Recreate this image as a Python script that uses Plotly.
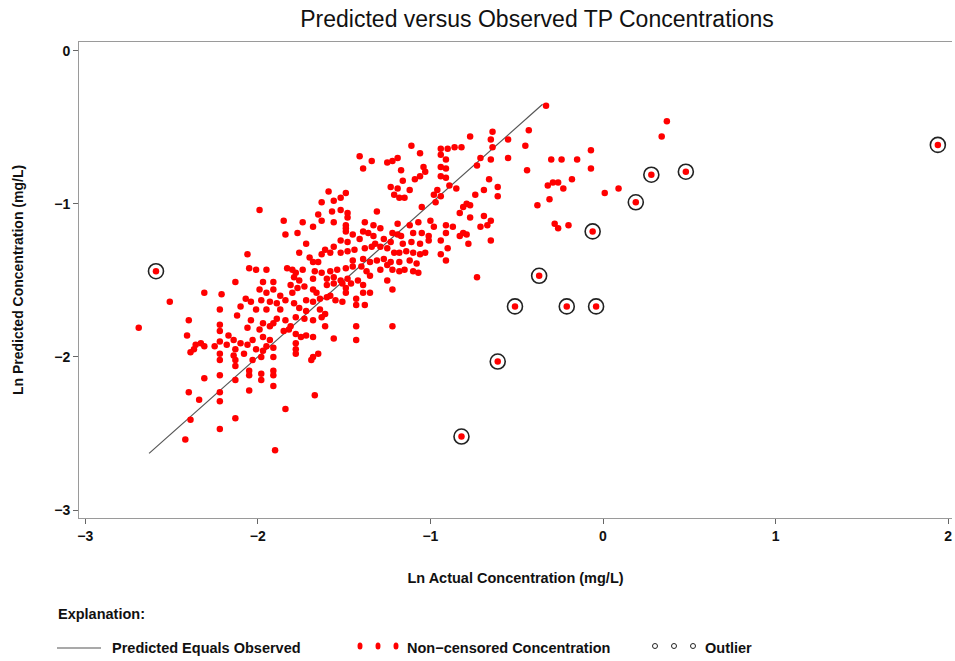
import plotly.graph_objects as go

# ---------------- data (natural-log concentrations, mg/L) ----------------
ln_actual = [
    -0.33,
    -0.77, -0.64, -0.65, -0.43, -0.55, -0.45, -1.11, -0.94, -0.90, -0.86, -0.82, -0.64,
    -1.41, -1.34, -1.25, -1.22, -1.19, -1.06, -0.94, -0.91, -0.71, -0.65, -0.55, -1.39, -1.17, -1.04, -1.03, -0.94, -0.91, -0.73, -0.44,
    -1.06, -1.09, -0.94, -0.91, -1.16, -1.23, -1.19, -1.12, -0.89, -0.85, -0.96, -0.66, -0.61, -0.69, -1.59, -1.52, -1.49, -1.63, -1.56, -1.21, -1.18, -1.15, -0.98, -0.94, -0.74, -0.61,
    -0.97, -0.79, -0.77, -0.81, -0.38, -1.99, -1.65, -1.57, -1.52, -1.48, -1.48, -1.31, -1.05,
    -0.83, -0.77, -0.69, -0.65, -0.71, -0.67, -1.85, -1.74, -1.68, -1.63, -1.56, -1.49, -1.49, -1.38, -1.33, -1.29, -1.19, -1.12, -1.07, -1.00, -0.91, -0.87, -0.98,
    -1.84, -1.77, -1.49, -1.45, -1.39, -1.36, -1.33, -1.27, -1.22, -1.19, -1.17, -1.10, -1.05, -1.01, -0.91, -0.83, -0.81, -0.79, -0.65, -0.78, -0.94, -1.23, -1.16, -1.11, -1.06, -1.01, -1.32, -1.41, -1.48, -1.52, -1.72, -1.56,
    -1.61, -1.58, -1.63, -1.52, -1.48, -1.44, -1.38, -1.34, -1.29, -1.25, -1.21, -1.18, -1.14, -1.10, -1.06, -1.03, -0.94, -0.90, -0.91, -1.70, -1.68, -1.65, -1.76, -2.06, -1.45, -1.39, -1.35, -1.31, -1.27, -1.23, -1.18, -1.12, -1.08,
    -2.05, -2.01, -1.95, -1.83, -1.80, -1.78, -1.74, -1.67, -1.63, -1.58, -1.54, -1.49, -1.45, -1.40, -1.37, -1.35, -1.29, -1.25, -1.22, -1.18, -1.15, -1.10, -1.07, -0.73, -1.79, -1.76, -1.68, -1.60, -1.56, -1.52, -1.48, -1.42, -1.25,
    -2.13, -1.97, -1.91, -1.81, -1.77, -1.73, -1.68, -1.60, -1.56, -1.51, -1.49, -1.46, -1.39, -1.35, -1.22, -2.31, -2.21, -1.99, -1.95, -1.91, -1.87, -1.80, -1.66, -1.58, -1.49, -1.43, -1.39,
    -2.51, -2.07, -2.04, -1.98, -1.93, -1.89, -1.84, -1.79, -1.72, -1.68, -1.64, -1.60, -1.55, -1.51, -1.43, -1.38, -2.22, -2.10, -2.01, -1.95, -1.87, -1.76, -1.72, -1.64, -1.61,
    -2.40, -2.22, -2.12, -2.04, -1.97, -1.93, -1.89, -1.84, -1.81, -1.78, -1.73, -1.68, -1.63, -1.61, -1.43, -1.22, -2.69, -2.41, -2.22, -2.06, -1.99, -1.91,
    -2.17, -2.14, -2.10, -2.06, -2.03, -1.97, -1.93, -1.85, -1.82, -1.78, -1.75, -1.72, -1.68, -1.56, -1.43, -1.78, -2.33, -2.31, -2.36, -2.25, -2.22, -2.18, -1.95,
    -2.39, -2.37, -2.22, -2.13, -2.14, -2.08, -2.01, -1.97, -1.91, -1.78, -1.78, -1.68, -1.65, -1.69, -2.22, -2.13, -2.03, -1.98, -1.91,
    -2.13, -2.05, -1.91, -2.05, -1.98, -1.91, -2.31, -2.22, -2.13, -1.98,
    -1.91, -2.05, -2.40, -2.22, -1.67,
    -2.34, -2.22, -1.84,
    -2.39, -2.13, -2.22,
    -2.42, -1.90,
    0.37, 0.34, -0.07, -0.30, -0.24, -0.15, -0.07, -0.18, -0.26, -0.29, -0.32, -0.23, -0.31, 0.01, 0.09, -0.28, -0.26, -0.20,
]
ln_predicted = [
    -0.36,
    -0.56, -0.53, -0.58, -0.52, -0.58, -0.62, -0.62, -0.64, -0.64, -0.63, -0.63, -0.63,
    -0.69, -0.72, -0.73, -0.72, -0.70, -0.67, -0.68, -0.71, -0.70, -0.71, -0.70, -0.77, -0.78, -0.76, -0.79, -0.76, -0.77, -0.75, -0.78,
    -0.82, -0.84, -0.82, -0.83, -0.85, -0.89, -0.90, -0.91, -0.88, -0.90, -0.91, -0.84, -0.89, -0.91, -0.92, -0.96, -0.93, -0.99, -0.98, -0.94, -0.96, -0.96, -0.94, -0.95, -0.94, -0.95,
    -0.99, -1.00, -1.01, -1.02, -1.01, -1.04, -1.07, -1.05, -1.04, -1.06, -1.09, -1.05, -1.02,
    -1.06, -1.09, -1.08, -1.11, -1.15, -1.14, -1.11, -1.12, -1.15, -1.11, -1.12, -1.14, -1.16, -1.12, -1.14, -1.16, -1.13, -1.14, -1.12, -1.11, -1.14, -1.15, -1.15,
    -1.20, -1.19, -1.18, -1.20, -1.18, -1.19, -1.21, -1.23, -1.19, -1.20, -1.21, -1.19, -1.19, -1.21, -1.19, -1.21, -1.19, -1.20, -1.24, -1.26, -1.24, -1.25, -1.26, -1.25, -1.26, -1.24, -1.26, -1.23, -1.25, -1.24, -1.26, -1.28,
    -1.30, -1.32, -1.33, -1.32, -1.31, -1.30, -1.29, -1.28, -1.28, -1.29, -1.32, -1.32, -1.31, -1.32, -1.33, -1.32, -1.33, -1.29, -1.37, -1.35, -1.38, -1.38, -1.32, -1.33, -1.37, -1.36, -1.38, -1.37, -1.36, -1.38, -1.38, -1.37, -1.39,
    -1.42, -1.43, -1.43, -1.42, -1.43, -1.45, -1.43, -1.44, -1.45, -1.44, -1.43, -1.42, -1.41, -1.41, -1.44, -1.47, -1.43, -1.40, -1.43, -1.44, -1.43, -1.44, -1.45, -1.48, -1.48, -1.50, -1.49, -1.49, -1.48, -1.50, -1.49, -1.50, -1.50,
    -1.51, -1.51, -1.51, -1.53, -1.55, -1.54, -1.56, -1.53, -1.52, -1.52, -1.55, -1.52, -1.53, -1.58, -1.56, -1.58, -1.59, -1.56, -1.58, -1.56, -1.60, -1.58, -1.58, -1.60, -1.58, -1.62, -1.58,
    -1.64, -1.62, -1.64, -1.63, -1.64, -1.65, -1.63, -1.65, -1.63, -1.64, -1.62, -1.61, -1.63, -1.64, -1.66, -1.66, -1.69, -1.67, -1.69, -1.69, -1.69, -1.68, -1.70, -1.69, -1.72,
    -1.76, -1.79, -1.73, -1.76, -1.78, -1.80, -1.75, -1.76, -1.80, -1.74, -1.75, -1.76, -1.74, -1.80, -1.80, -1.80, -1.81, -1.86, -1.83, -1.81, -1.82, -1.78,
    -1.86, -1.89, -1.91, -1.92, -1.89, -1.87, -1.89, -1.83, -1.82, -1.85, -1.87, -1.86, -1.87, -1.88, -1.89, -1.91, -1.91, -1.93, -1.92, -1.93, -1.90, -1.92, -1.93,
    -1.97, -1.95, -1.98, -1.95, -1.99, -1.98, -1.95, -1.96, -1.94, -1.95, -1.98, -2.00, -1.98, -2.02, -2.02, -2.02, -2.02, -2.00, -2.00,
    -2.06, -2.09, -2.09, -2.12, -2.11, -2.12, -2.14, -2.12, -2.15, -2.15,
    -2.19, -2.22, -2.23, -2.23, -2.25,
    -2.28, -2.29, -2.34,
    -2.41, -2.40, -2.47,
    -2.54, -2.61,
    -0.46, -0.56, -0.65, -0.71, -0.71, -0.71, -0.77, -0.84, -0.86, -0.86, -0.88, -0.90, -0.97, -0.93, -0.90, -1.13, -1.16, -1.14,
]
outlier_actual = [-2.59, -0.82, -0.61, -0.51, -0.37, -0.21, -0.04, -0.06, 0.19, 0.28, 0.48, 1.94]
outlier_predicted = [-1.44, -2.52, -2.03, -1.67, -1.47, -1.67, -1.67, -1.18, -0.99, -0.81, -0.79, -0.615]
equality_range = [-2.63, -0.35]
x_ticks = [-3, -2, -1, 0, 1, 2]
y_ticks = [-3, -2, -1, 0]

# ---------------- figure ----------------
W, H = 955, 661
ML, MR, MT, MB = 79, 3, 42, 143
PW, PH = W - ML - MR, H - MT - MB
FONT = "Liberation Sans, Arial, sans-serif"
INK = "#111111"


def px(xpix):
    return (xpix - ML) / PW


def py(ypix):
    return (H - MB - ypix) / PH


fig = go.Figure()
fig.add_trace(go.Scatter(
    x=equality_range, y=equality_range, mode="lines",
    line=dict(color="#555555", width=1.2), name="Predicted Equals Observed",
    hoverinfo="skip"))
fig.add_trace(go.Scatter(
    x=ln_actual + outlier_actual, y=ln_predicted + outlier_predicted, mode="markers",
    marker=dict(color="#ff0000", size=6.5, line=dict(width=0)),
    name="Non−censored Concentration"))
fig.add_trace(go.Scatter(
    x=outlier_actual, y=outlier_predicted, mode="markers",
    marker=dict(symbol="circle-open", color="#222222", size=15, line=dict(width=1.6)),
    name="Outlier"))

bold14 = dict(family=FONT, size=14, color=INK, weight="bold")
axis_common = dict(
    showgrid=False, zeroline=False, showline=True, linecolor="#9a9a9a", linewidth=1,
    ticks="outside", ticklen=5, tickcolor="#666666", tickfont=bold14,
)
fig.update_xaxes(range=[-3.036, 2.022], tickvals=x_ticks, mirror=True, **axis_common,
                 title=dict(text="Ln Actual Concentration (mg/L)", standoff=30,
                            font=dict(family=FONT, size=14.5, color=INK, weight="bold")))
fig.update_yaxes(range=[-3.052, 0.057], tickvals=y_ticks, **axis_common,
                 title=dict(text="Ln Predicted Concentration (mg/L)", standoff=27,
                            font=dict(family=FONT, size=14, color=INK, weight="bold")))

# legend ("Explanation") drawn below the plot
shapes = [dict(type="line", xref="paper", yref="paper", x0=px(57), x1=px(101), y0=py(648), y1=py(648),
               line=dict(color="#555555", width=1.2))]
for cx in [360, 378, 396]:
    shapes.append(dict(type="circle", xref="paper", yref="paper", x0=px(cx - 2.5), x1=px(cx + 2.5),
                       y0=py(646 + 3.5), y1=py(646 - 3.5), fillcolor="#ff0000", line=dict(width=0)))
for cx in [655, 674, 693]:
    shapes.append(dict(type="circle", xref="paper", yref="paper", x0=px(cx - 2.5), x1=px(cx + 2.5),
                       y0=py(646 + 2.5), y1=py(646 - 2.5), line=dict(color="#222222", width=1)))

ann_font = dict(family=FONT, size=14.5, color=INK, weight="bold")
annotations = [
    dict(text="Explanation:", x=px(56), y=py(614), xref="paper", yref="paper",
         xanchor="left", yanchor="middle", showarrow=False, font=ann_font),
    dict(text="Predicted Equals Observed", x=px(110), y=py(648), xref="paper", yref="paper",
         xanchor="left", yanchor="middle", showarrow=False, font=ann_font),
    dict(text="Non−censored Concentration", x=px(405), y=py(648), xref="paper", yref="paper",
         xanchor="left", yanchor="middle", showarrow=False, font=ann_font),
    dict(text="Outlier", x=px(703), y=py(648), xref="paper", yref="paper",
         xanchor="left", yanchor="middle", showarrow=False, font=ann_font),
]

fig.update_layout(
    width=W, height=H,
    margin=dict(l=ML, r=MR, t=MT, b=MB, autoexpand=False),
    paper_bgcolor="white", plot_bgcolor="white",
    showlegend=False,
    title=dict(text="Predicted versus Observed TP Concentrations", xref="container", yref="container",
               x=537 / W, y=1 - 19 / H, xanchor="center", yanchor="middle",
               font=dict(family=FONT, size=23, color=INK)),
    shapes=shapes, annotations=annotations,
)

fig.write_html("out.html", config={"displayModeBar": False},
               post_script="document.body.style.margin='0';document.body.style.padding='0';")
